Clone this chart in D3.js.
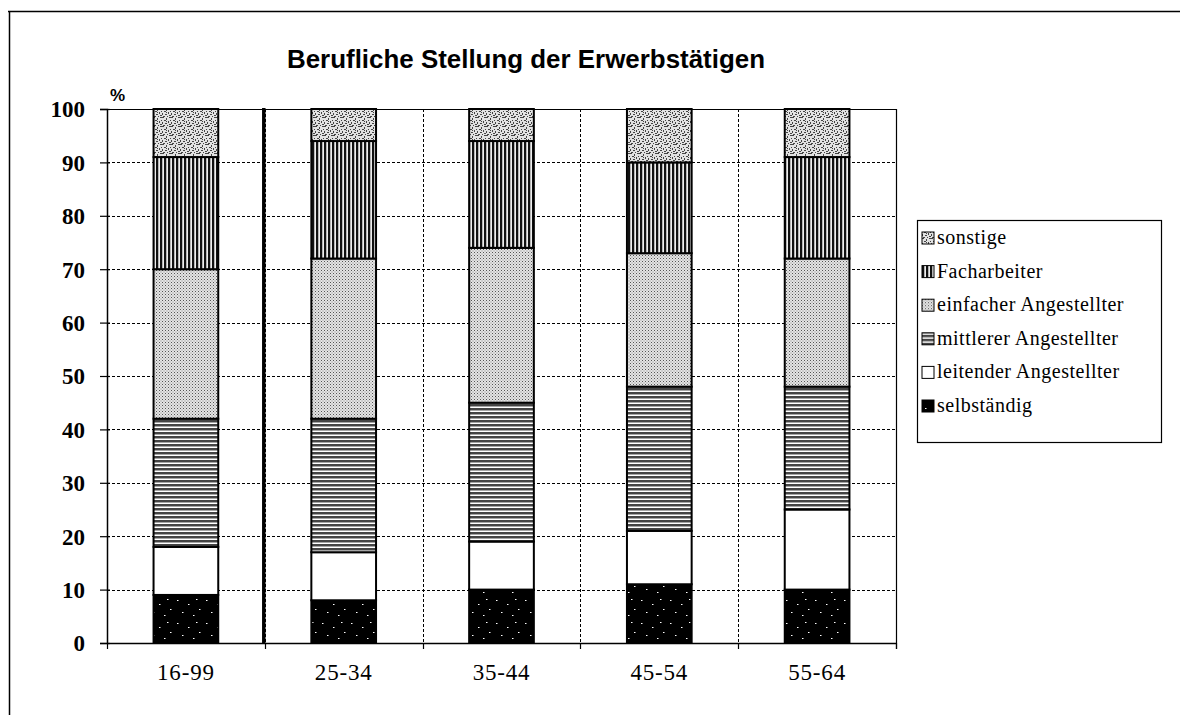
<!DOCTYPE html>
<html><head><meta charset="utf-8">
<script src="https://cdn.jsdelivr.net/npm/d3@7"></script>
<style>body{margin:0;background:#fff}</style>
</head><body>
<svg id="c" width="1180" height="715"></svg>
<script>
const categories = ["16-99","25-34","35-44","45-54","55-64"];
const seriesKeys = ["selbständig","leitender Angestellter","mittlerer Angestellter","einfacher Angestellter","Facharbeiter","sonstige"];
const selbstaendig = [9,8,10,11,10];
const leitender = [9,9,9,10,15];
const mittlerer = [24,25,26,27,23];
const einfacher = [28,30,29,25,24];
const facharbeiter = [21,22,20,17,19];
const sonstige = [9,6,6,10,9];
const yTicks = [0,10,20,30,40,50,60,70,80,90,100];
const title = "Berufliche Stellung der Erwerbstätigen";
const yUnit = "%";

const seriesValues = [selbstaendig, leitender, mittlerer, einfacher, facharbeiter, sonstige];
const rows = categories.map((c,i)=>{const r={cat:c}; seriesKeys.forEach((k,j)=>r[k]=seriesValues[j][i]); return r;});

const svg = d3.select("#c");
const L=107, R=896, T=109, B=643;
const serif = "'Liberation Serif','Times New Roman',serif";

// ---------- patterns ----------
const defs = svg.append("defs");
function pat(id,w,h,bg,draw){
  const p=defs.append("pattern").attr("id",id).attr("patternUnits","userSpaceOnUse").attr("width",w).attr("height",h);
  p.append("rect").attr("width",w).attr("height",h).attr("fill",bg);
  draw(p);
}
pat("p-sonst",9,9,"#e2e2e2",p=>{
  [[0,0,2,1],[4,1,1,2],[7,0,2,1],[2,3,2,1],[6,4,1,2],[0,5,1,2],[3,6,2,1],[7,7,2,1],[1,8,2,1],[5,8,1,1],[8,3,1,1],[4,4,1,1]].forEach(d=>p.append("rect").attr("x",d[0]).attr("y",d[1]).attr("width",d[2]).attr("height",d[3]).attr("fill","#444"));
});
pat("p-fach",4,4,"#b5b5b5",p=>{
  p.append("rect").attr("x",0).attr("width",2).attr("height",4).attr("fill","#111");
  p.append("rect").attr("x",3).attr("width",1).attr("height",4).attr("fill","#eee");
});
pat("p-einf",3,3,"#e4e4e4",p=>{
  p.append("rect").attr("x",0).attr("y",0).attr("width",1).attr("height",1).attr("fill","#555");
  p.append("rect").attr("x",1.5).attr("y",1.5).attr("width",1).attr("height",1).attr("fill","#888");
});
pat("p-mitt",4,4,"#fff",p=>{
  p.append("rect").attr("y",0).attr("width",4).attr("height",2).attr("fill","#444");
  p.append("rect").attr("y",2).attr("width",4).attr("height",1).attr("fill","#a5a5a5");
});
pat("p-selb",29,23,"#000",p=>{
  [[3,2],[14,6],[22,1],[8,14],[19,17],[25,11]].forEach(d=>p.append("rect").attr("x",d[0]).attr("y",d[1]).attr("width",1.5).attr("height",1).attr("fill","#fff"));
});
const fills = {"selbständig":"url(#p-selb)","leitender Angestellter":"#fff","mittlerer Angestellter":"url(#p-mitt)","einfacher Angestellter":"url(#p-einf)","Facharbeiter":"url(#p-fach)","sonstige":"url(#p-sonst)"};

// ---------- outer frame ----------
svg.append("line").attr("x1",8).attr("x2",1180).attr("y1",11.5).attr("y2",11.5).attr("stroke","#000").attr("stroke-width",1.5);
svg.append("line").attr("x1",9.5).attr("x2",9.5).attr("y1",11).attr("y2",715).attr("stroke","#000").attr("stroke-width",1.5);

// ---------- scales ----------
const x = d3.scaleBand().domain(categories).range([L,R]).padding(0);
const y = d3.scaleLinear().domain([0,100]).range([B,T]);

// grid
const g = svg.append("g");
g.selectAll(".hg").data(yTicks.filter(t=>t>0&&t<100)).join("line")
  .attr("x1",L).attr("x2",R).attr("y1",d=>Math.round(y(d))+0.5).attr("y2",d=>Math.round(y(d))+0.5)
  .attr("stroke","#000").attr("stroke-width",1).attr("stroke-dasharray","3,2");
const bounds = categories.slice(1).map(c=>x(c));
g.selectAll(".vg").data(bounds).join("line")
  .attr("x1",d=>Math.round(d)+0.5).attr("x2",d=>Math.round(d)+0.5).attr("y1",T).attr("y2",B)
  .attr("stroke","#000").attr("stroke-width",1).attr("stroke-dasharray","3,2");
g.append("line").attr("x1",x(categories[1])-1).attr("x2",x(categories[1])-1).attr("y1",T-1).attr("y2",B+1)
  .attr("stroke","#000").attr("stroke-width",3.5);
g.append("line").attr("x1",L).attr("x2",R).attr("y1",T+0.5).attr("y2",T+0.5).attr("stroke","#000").attr("stroke-width",1.2);
g.append("line").attr("x1",R+0.5).attr("x2",R+0.5).attr("y1",T).attr("y2",B+6).attr("stroke","#000").attr("stroke-width",1.2);

// ---------- bars ----------
const stack = d3.stack().keys(seriesKeys)(rows);
const bw = x.bandwidth()*0.41;
const bars = svg.append("g");
stack.forEach(s=>{
  bars.selectAll(null).data(s).join("rect")
    .attr("x",d=>x(d.data.cat)+x.bandwidth()/2-bw/2)
    .attr("width",bw)
    .attr("y",d=>y(d[1]))
    .attr("height",d=>y(d[0])-y(d[1]))
    .attr("fill",fills[s.key])
    .attr("stroke","#000").attr("stroke-width",2);
});

// ---------- axes ----------
const yAxis = svg.append("g").attr("transform",`translate(${L},0)`)
  .call(d3.axisLeft(y).tickValues(yTicks).tickSize(7).tickPadding(15));
yAxis.select(".domain").attr("stroke-width",1.5);
yAxis.selectAll(".tick line").attr("x2",-7).attr("x1",3).attr("stroke-width",1.2);
yAxis.selectAll("text").attr("font-family",serif).attr("font-size",23).attr("font-weight","bold").attr("fill","#000").attr("dy","0.34em");

const xAxis = svg.append("g").attr("transform",`translate(0,${B})`)
  .call(d3.axisBottom(x).tickSize(0).tickPadding(21));
xAxis.select(".domain").attr("stroke-width",1.5).attr("d",`M${L},0.5H${R}`);
xAxis.selectAll("text").attr("font-family",serif).attr("font-size",23).attr("letter-spacing",0.8).attr("fill","#000");
xAxis.selectAll(".bt").data([L,...bounds,R]).join("line")
  .attr("x1",d=>Math.round(d)+0.5).attr("x2",d=>Math.round(d)+0.5).attr("y1",0).attr("y2",6).attr("stroke","#000").attr("stroke-width",1.2);

// ---------- title & unit ----------
svg.append("text").attr("x",526).attr("y",68).attr("text-anchor","middle")
  .attr("font-family","'Liberation Sans',Arial,sans-serif").attr("font-size",25).attr("font-weight","bold")
  .attr("textLength",478).attr("lengthAdjust","spacingAndGlyphs").text(title);
svg.append("text").attr("x",110).attr("y",101)
  .attr("font-family","'Liberation Sans',Arial,sans-serif").attr("font-size",17).attr("font-weight","bold").text(yUnit);

// ---------- legend ----------
const leg = svg.append("g");
leg.append("rect").attr("x",917.5).attr("y",220.5).attr("width",244).attr("height",222).attr("fill","#fff").attr("stroke","#000").attr("stroke-width",1.2);
const legKeys = seriesKeys.slice().reverse();
const li = leg.selectAll(".li").data(legKeys).join("g").attr("transform",(d,i)=>`translate(922,${238+i*33.6})`);
li.append("rect").attr("x",0).attr("y",-6).attr("width",12).attr("height",12).attr("fill",d=>fills[d]).attr("stroke","#000").attr("stroke-width",1);
li.append("text").attr("x",15).attr("y",6).attr("font-family",serif).attr("font-size",20).attr("letter-spacing",0.5).text(d=>d);
</script>
</body></html>
